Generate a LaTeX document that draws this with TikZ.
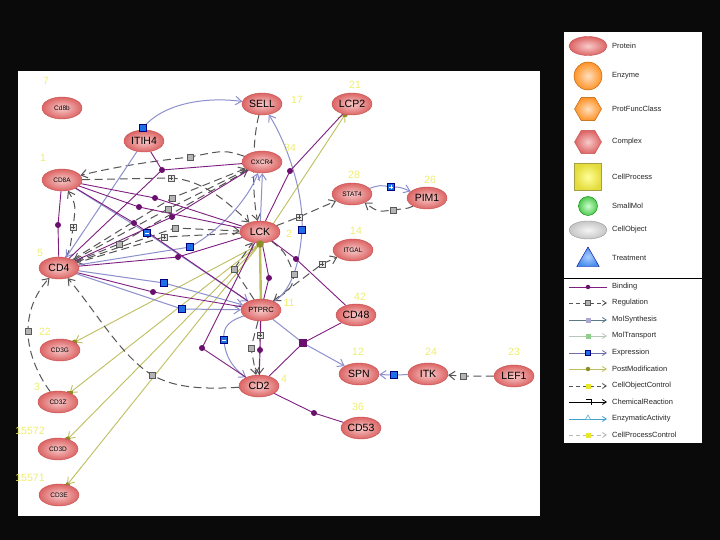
\documentclass[tikz,border=0pt]{standalone}
\usepackage{fontspec}
\setmainfont{Liberation Sans}
\usetikzlibrary{arrows.meta,shapes.geometric}
\definecolor{bg}{HTML}{0A0A0A}
\definecolor{bindc}{HTML}{7E1E80}
\definecolor{dotc}{HTML}{6A0F6E}
\definecolor{regc}{HTML}{555555}
\definecolor{sqgray}{HTML}{B4B4B4}
\definecolor{exprc}{HTML}{8C90CC}
\definecolor{sqblue}{HTML}{1E6EE6}
\definecolor{pmc}{HTML}{BEBE5E}
\definecolor{pmd}{HTML}{8C8C28}
\definecolor{numc}{HTML}{EEEE6E}
\definecolor{protin}{HTML}{F8CACA}
\definecolor{protout}{HTML}{DC6464}
\definecolor{protbd}{HTML}{C85050}
\pgfdeclarelayer{bgl}
\pgfdeclarelayer{edgel}
\pgfsetlayers{bgl,edgel,main}
\tikzset{
 prot/.style={ellipse, draw=protbd, line width=0.4pt, inner color=protin, outer color=protout,
   minimum width=40pt, minimum height=22pt, inner sep=0pt, font=\fontsize{10.5}{12}\selectfont},
 protsm/.style={prot, font=\fontsize{6.5}{7}\selectfont},
 protmd/.style={prot, font=\fontsize{7.5}{8}\selectfont},
 num/.style={text=numc, font=\fontsize{10.5}{12}\selectfont, inner sep=0pt},
 bind/.style={draw=bindc, line width=0.9pt},
 bdot/.style={circle, fill=dotc, inner sep=0pt, minimum size=6pt},
 reg/.style={draw=regc, line width=1pt, dash pattern=on 8pt off 4.5pt},
 arr/.style={-{Straight Barb[length=6pt,width=8.5pt]}},
 gsq/.style={rectangle, fill=sqgray, draw=gray!70!black, line width=0.3pt, minimum size=6.5pt, inner sep=0pt},
 gsqp/.style={gsq, fill=white!80!gray, path picture={\draw[gray!60!black, line width=0.5pt]
   ([xshift=-2pt]path picture bounding box.center) -- ([xshift=2pt]path picture bounding box.center)
   ([yshift=-2pt]path picture bounding box.center) -- ([yshift=2pt]path picture bounding box.center);}},
 expr/.style={draw=exprc, line width=1pt},
 bsq/.style={rectangle, fill=sqblue, draw=blue!50!black, line width=0.3pt, minimum size=7pt, inner sep=0pt},
 bsqm/.style={bsq, path picture={\draw[white, line width=0.6pt]
   ([xshift=-2pt]path picture bounding box.center) -- ([xshift=2pt]path picture bounding box.center);}},
 bsqp/.style={bsq, path picture={\draw[white, line width=0.6pt]
   ([xshift=-2pt]path picture bounding box.center) -- ([xshift=2pt]path picture bounding box.center)
   ([yshift=-2pt]path picture bounding box.center) -- ([yshift=2pt]path picture bounding box.center);}},
 pm/.style={draw=pmc, line width=0.9pt},
 pdot/.style={circle, fill=pmd, inner sep=0pt, minimum size=5.5pt},
 pmin/.style={rectangle, fill=pmd, inner sep=0pt, minimum width=6pt, minimum height=3pt},
 pplus/.style={rectangle, inner sep=0pt, minimum size=6pt, path picture={\draw[pmd, line width=0.8pt]
   ([xshift=-3pt]path picture bounding box.center) -- ([xshift=3pt]path picture bounding box.center)
   ([yshift=-3pt]path picture bounding box.center) -- ([yshift=3pt]path picture bounding box.center);}},
 lgtxt/.style={anchor=west, inner sep=0pt, font=\fontsize{7.5}{8}\selectfont, text=black!85},
 larr/.style={-{Straight Barb[length=4pt,width=5pt]}},
}
\begin{document}
\begin{tikzpicture}[x=1pt,y=-1pt]
\useasboundingbox (0,0) rectangle (720,540);
\begin{pgfonlayer}{bgl}
\fill[bg] (0,0) rectangle (720,540);
\fill[white] (18,71) rectangle (540,516);
\fill[white] (564,32) rectangle (702,443);
\end{pgfonlayer}

% ---------------- nodes ----------------
\node[protsm] (cd8b) at (62,108) {Cd8b};
\node[prot] (sell) at (262,104) {SELL};
\node[prot] (lcp2) at (352,104) {LCP2};
\node[prot] (itih4) at (144,141) {ITIH4};
\node[protsm] (cd8a) at (62,180) {CD8A};
\node[protsm] (cxcr4) at (262,162) {CXCR4};
\node[protsm] (stat4) at (352,194) {STAT4};
\node[prot] (pim1) at (427,198) {PIM1};
\node[prot] (lck) at (260,232) {LCK};
\node[protsm] (itgal) at (353,250) {ITGAL};
\node[prot] (cd4) at (59,268) {CD4};
\node[protmd] (ptprc) at (261,310) {PTPRC};
\node[prot] (cd48) at (356,315) {CD48};
\node[protsm] (cd3g) at (60,350) {CD3G};
\node[prot] (spn) at (359,374) {SPN};
\node[prot] (itk) at (428,374) {ITK};
\node[prot] (lef1) at (514,376) {LEF1};
\node[prot] (cd2) at (259,386) {CD2};
\node[protsm] (cd3z) at (58,402) {CD3Z};
\node[prot] (cd53) at (361,428) {CD53};
\node[protsm] (cd3d) at (58,449) {CD3D};
\node[protsm] (cd3e) at (59,495) {CD3E};

% number labels
\node[num] (n7) at (46,81) {7};
\node[num] (n17) at (297,100) {17};
\node[num] (n21) at (355,85) {21};
\node[num] (n1) at (43,158) {1};
\node[num] (n34) at (290,148) {34};
\node[num] (n28) at (354,175) {28};
\node[num] (n26) at (430,180) {26};
\node[num] (n2) at (289,234) {2};
\node[num] (n14) at (356,231) {14};
\node[num] (n5) at (40,253) {5};
\node[num] (n11) at (289,303) {11};
\node[num] (n42) at (360,297) {42};
\node[num] (n22) at (45,332) {22};
\node[num] (n12) at (358,352) {12};
\node[num] (n24) at (431,352) {24};
\node[num] (n23) at (514,352) {23};
\node[num] (n4) at (284,379) {4};
\node[num] (n3) at (37,387) {3};
\node[num] (n36) at (358,407) {36};
\node[num] (n15572) at (30,431) {15572};
\node[num] (n15571) at (30,478) {15571};

% marker coordinates
\coordinate (h1) at (162,170);
\coordinate (d2) at (58,225);
\coordinate (d3) at (155,198);
\coordinate (d4) at (139,207);
\coordinate (d5) at (134,223);
\coordinate (d6) at (172,217);
\coordinate (d7) at (178,257);
\coordinate (d8) at (153,292);
\coordinate (d9) at (290,171);
\coordinate (d10) at (296,259);
\coordinate (d11) at (269,278);
\coordinate (d12) at (202,348);
\coordinate (d13) at (260,350);
\coordinate (d14) at (314,413);
\coordinate (h2) at (303,343);
\coordinate (s1) at (143,128);
\coordinate (s3) at (147,233);
\coordinate (s4) at (190,247);
\coordinate (s5) at (164,283);
\coordinate (s6) at (182,309);
\coordinate (s8) at (302,230);
\coordinate (s9) at (224,340);
\coordinate (s10) at (391,187);
\coordinate (s11) at (394,375);
\coordinate (g1) at (190,157);
\coordinate (g2) at (171,178);
\coordinate (g3) at (172,198);
\coordinate (g4) at (168,209);
\coordinate (g5) at (175,228);
\coordinate (g6) at (164,237);
\coordinate (g7) at (119,244);
\coordinate (g8) at (73,227);
\coordinate (g10) at (299,217);
\coordinate (g11) at (322,264);
\coordinate (g12) at (294,274);
\coordinate (g13) at (234,269);
\coordinate (g14) at (260,335);
\coordinate (g15) at (251,348);
\coordinate (g16) at (152,375);
\coordinate (g17) at (28,331);
\coordinate (g18) at (393,210);
\coordinate (g19) at (463,376);
\coordinate (pmo) at (260,244);

% ---------------- edges ----------------
\begin{pgfonlayer}{edgel}
% post-modification
\draw[pm,arr] (pmo) -- (lcp2) node[pdot,pos=1] (pk1) {};
\draw[pm,line width=2.4pt] (pmo) -- (ptprc);
\draw[pm,arr] (pmo) -- (cd3g) node[pdot,pos=1] (pk3) {};
\draw[pm,arr] (pmo) -- (cd3z) node[pmin,pos=1] (pk4) {};
\draw[pm,arr] (pmo) -- (cd3d) node[pdot,pos=1] (pk5) {};
\draw[pm,arr] (pmo) -- (cd3e) node[pplus,pos=1] (pk6) {};
% regulation
\draw[reg,arr] (cxcr4) .. controls (225,150) .. (g1) .. controls (145,162) and (110,168) .. (cd8a);
\draw[reg,arr] (cd8a) -- (g2) .. controls (205,180) and (230,205) .. (lck);
\draw[reg,arr] (cd4) -- (g3) -- (cxcr4);
\draw[reg,arr] (cxcr4) -- (g4) -- (cd4);
\draw[reg,arr] (cd4) -- (g5) -- (lck);
\draw[reg,arr] (lck) -- (g6) -- (cd4);
\draw[reg,arr] (cd4) -- (g7) -- (cxcr4);
\draw[reg,arr] (cd4) .. controls (70,250) .. (g8) .. controls (76,205) .. (cd8a);
\draw[reg,arr] (sell) .. controls (252,140) and (252,195) .. (lck);
\draw[reg,arr] (lck) -- (g10) -- (stat4);
\draw[reg,arr] (ptprc) -- (g11) -- (itgal);
\draw[reg,arr] (lck) .. controls (285,252) .. (g12) .. controls (292,288) .. (ptprc);
\draw[reg,arr] (ptprc) -- (g13) -- (lck);
\draw[reg,arr] (ptprc) -- (g14) -- (cd2);
\draw[reg,arr] (ptprc.-105) -- (g15) -- (cd2.105);
\draw[reg,arr] (cd2) .. controls (195,390) and (172,386) .. (g16) .. controls (120,355) and (95,310) .. (cd4);
\draw[reg,arr] (cd3z) .. controls (40,378) and (28,355) .. (g17) .. controls (28,308) and (38,290) .. (cd4);
\draw[reg,arr] (pim1) .. controls (410,208) .. (g18) .. controls (378,212) .. (stat4);
\draw[reg,arr] (lef1) -- (g19) -- (itk);
% expression
\draw[expr,arr] (s1) .. controls (160,106) and (200,96) .. (sell);
\draw[expr,arr] (itih4) -- (cd4);
\draw[expr,arr] (cd8a) -- (s3) -- (ptprc);
\draw[expr,arr] (cd4) -- (s4) .. controls (218,232) and (248,200) .. (cxcr4);
\draw[expr,arr] (cd4) -- (s5) -- (ptprc);
\draw[expr,arr] (cd4) -- (s6) -- (ptprc);
\draw[expr,arr] (lck.88) -- (cxcr4.-88);
\draw[expr,arr] (ptprc) .. controls (292,290) and (300,262) .. (s8) .. controls (304,190) and (285,140) .. (sell);
\draw[expr,arr] (ptprc) .. controls (232,320) and (222,325) .. (s9) .. controls (225,360) and (238,372) .. (cd2);
\draw[expr,arr] (stat4) .. controls (380,185) .. (s10) .. controls (400,187) .. (pim1);
\draw[expr,arr] (itk) -- (s11) -- (spn);
\draw[expr,arr] (ptprc) -- (h2) -- (spn);
% binding
\draw[bind] (itih4) -- (h1);
\draw[bind] (h1) -- (cxcr4);
\draw[bind] (h1) -- (cd4);
\draw[bind] (cd8a) -- (d2) -- (cd4);
\draw[bind] (cd8a) -- (d3) -- (lck);
\draw[bind] (cd8a) -- (d4) -- (lck);
\draw[bind] (cd8a) -- (d5) -- (ptprc);
\draw[bind] (cd4) -- (d6) -- (cxcr4);
\draw[bind] (cd4) -- (d7) -- (lck);
\draw[bind] (cd4) -- (d8) -- (ptprc);
\draw[bind] (lck) -- (d9) -- (lcp2);
\draw[bind] (lck) -- (d10) -- (cd48);
\draw[bind] (lck) -- (d11) -- (ptprc);
\draw[bind] (lck) -- (d12) -- (cd2);
\draw[bind] (ptprc) -- (d13) -- (cd2);
\draw[bind] (cd2) -- (d14) -- (cd53);
\draw[bind] (cd48) -- (h2) -- (cd2);
\end{pgfonlayer}

% ---------------- markers ----------------
\foreach \m in {h1,d2,d3,d4,d5,d6,d7,d8,d9,d10,d11,d12,d13,d14}
  \node[bdot] (m\m) at (\m) {};
\node[rectangle, fill=dotc, inner sep=0pt, minimum size=7.5pt] (mh2) at (h2) {};
\foreach \m in {s1,s4,s5,s6,s8,s11}
  \node[bsq] (m\m) at (\m) {};
\node[bsqm] (ms3) at (s3) {};
\node[bsqm] (ms9) at (s9) {};
\node[bsqp] (ms10) at (s10) {};
\foreach \m in {g1,g3,g4,g5,g7,g12,g13,g15,g16,g17,g18,g19}
  \node[gsq] (m\m) at (\m) {};
\foreach \m in {g2,g6,g8,g10,g11,g14}
  \node[gsqp] (m\m) at (\m) {};
\node[pdot, minimum size=7.5pt] (mpmo) at (pmo) {};

% ---------------- legend ----------------
\draw[line width=0.8pt] (564,278) -- (702,278);
\node[ellipse, minimum width=38pt, minimum height=19pt, inner sep=0pt, draw=protbd, line width=0.4pt,
  inner color=protin, outer color=protout] (lg1) at (588,46) {};
\node[circle, minimum size=28pt, inner sep=0pt, draw=orange!70!black, line width=0.4pt,
  inner color=orange!25, outer color=orange!85] (lg2) at (588,76) {};
\node[regular polygon, regular polygon sides=6, minimum size=27pt, inner sep=0pt, draw=orange!70!black,
  line width=0.4pt, inner color=orange!25, outer color=orange!85] (lg3) at (588,109) {};
\node[regular polygon, regular polygon sides=6, minimum size=27pt, inner sep=0pt, draw=protbd,
  line width=0.4pt, inner color=protin, outer color=protout] (lg4) at (588,142) {};
\node[rectangle, minimum size=27pt, inner sep=0pt, draw=yellow!60!black, line width=0.4pt,
  inner color=yellow!40, outer color={rgb,255:red,228;green,220;blue,60}] (lg5) at (588,177) {};
\node[circle, minimum size=19pt, inner sep=0pt, draw=green!55!black, line width=0.4pt,
  inner color=green!20, outer color={rgb,255:red,80;green,200;blue,80}] (lg6) at (588,206) {};
\node[ellipse, minimum width=38pt, minimum height=18pt, inner sep=0pt, draw=gray!80, line width=0.4pt,
  inner color=gray!8, outer color=gray!45] (lg7) at (588,230) {};
\node[regular polygon, regular polygon sides=3, minimum size=26pt, inner sep=0pt, draw=blue!60!black,
  line width=0.4pt, inner color={rgb,255:red,170;green,205;blue,255}, outer color={rgb,255:red,70;green,140;blue,235}] (lg8) at (588,260) {};
\node[lgtxt] (lt1) at (612,46) {Protein};
\node[lgtxt] (lt2) at (612,76) {Enzyme};
\node[lgtxt] (lt3) at (612,109) {ProtFuncClass};
\node[lgtxt] (lt4) at (612,142) {Complex};
\node[lgtxt] (lt5) at (612,177) {CellProcess};
\node[lgtxt] (lt6) at (612,206) {SmallMol};
\node[lgtxt] (lt7) at (612,230) {CellObject};
\node[lgtxt] (lt8) at (612,258) {Treatment};

\draw[bind] (569,287) -- (607,287);
\node[bdot, minimum size=4.5pt] (lm1) at (588,287) {};
\draw[reg, line width=0.8pt, dash pattern=on 4pt off 3pt, larr] (569,303) -- (607,303);
\node[gsq, minimum size=5pt] (lm2) at (588,303) {};
\draw[draw={rgb,255:red,90;green,122;blue,134}, line width=0.8pt, larr] (569,320) -- (607,320);
\node[rectangle, fill={rgb,255:red,168;green,168;blue,208}, inner sep=0pt, minimum size=5pt] (lm3) at (588,320) {};
\draw[draw={rgb,255:red,184;green,200;blue,184}, line width=0.8pt, larr] (569,336) -- (607,336);
\node[rectangle, fill={rgb,255:red,140;green,208;blue,140}, inner sep=0pt, minimum size=5pt] (lm4) at (588,336) {};
\draw[draw={rgb,255:red,112;green,112;blue,168}, line width=0.8pt, larr] (569,353) -- (607,353);
\node[bsq, minimum size=5pt] (lm5) at (588,353) {};
\draw[pm, line width=0.8pt, larr] (569,369) -- (607,369);
\node[pdot, minimum size=4.5pt] (lm6) at (588,369) {};
\draw[reg, line width=0.8pt, dash pattern=on 4pt off 3pt, larr] (569,386) -- (607,386);
\node[rectangle, fill={rgb,255:red,232;green,232;blue,40}, inner sep=0pt, minimum size=5pt] (lm7) at (588,386) {};
\draw[black, line width=0.8pt, larr] (569,402) -- (607,402);
\draw[black, line width=0.7pt] (586,399) -- (591,399) -- (591,405);
\draw[draw={rgb,255:red,64;green,160;blue,208}, line width=0.8pt, larr] (569,419) -- (607,419);
\node[regular polygon, regular polygon sides=3, draw={rgb,255:red,64;green,160;blue,208}, fill=white,
  inner sep=0pt, minimum size=6pt, line width=0.5pt] (lm9) at (588,418) {};
\draw[draw=gray!55, line width=0.8pt, dash pattern=on 4pt off 3pt, larr] (569,435) -- (607,435);
\node[rectangle, fill={rgb,255:red,232;green,232;blue,40}, inner sep=0pt, minimum size=5pt] (lm10) at (588,435) {};
\node[lgtxt] (lu1) at (612,287) {Binding};
\node[lgtxt] (lu2) at (612,303) {Regulation};
\node[lgtxt] (lu3) at (612,320) {MolSynthesis};
\node[lgtxt] (lu4) at (612,336) {MolTransport};
\node[lgtxt] (lu5) at (612,353) {Expression};
\node[lgtxt] (lu6) at (612,369) {PostModification};
\node[lgtxt] (lu7) at (612,386) {CellObjectControl};
\node[lgtxt] (lu8) at (612,402) {ChemicalReaction};
\node[lgtxt] (lu9) at (612,419) {EnzymaticActivity};
\node[lgtxt] (lu10) at (612,435) {CellProcessControl};
\end{tikzpicture}
\end{document}
